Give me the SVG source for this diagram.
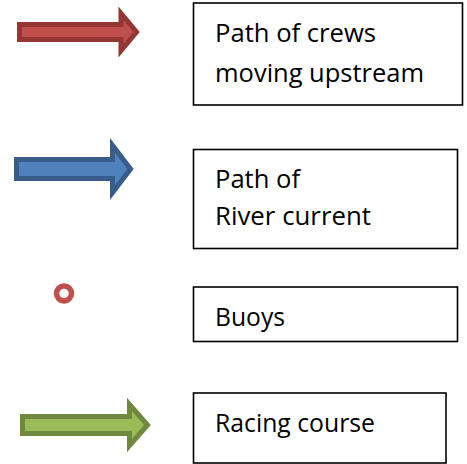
<svg xmlns="http://www.w3.org/2000/svg" width="467" height="464" viewBox="0 0 467 464">
<style>
.box{fill:#fff;stroke:#000;stroke-width:1.6}
.lbl{font-family:"Open Sans","Noto Sans","Liberation Sans",sans-serif;font-size:26px;fill:#000}
.arr{stroke-width:5;stroke-linejoin:miter;stroke-miterlimit:10}
</style>
<rect width="467" height="464" fill="#fff"/>
<g id="legend-crews">
<path class="arr" d="M19.5,24.5 H121 V13.5 L136.5,32 L121,50.5 V39.5 H19.5 Z" fill="#C0504D" stroke="#943634"/>
<rect class="box" x="193.5" y="3" width="269" height="102"/>
<text class="lbl" x="215" y="42" textLength="161" lengthAdjust="spacingAndGlyphs">Path of crews</text>
<text class="lbl" x="215" y="82" textLength="209" lengthAdjust="spacingAndGlyphs">moving upstream</text>
</g>
<g id="legend-current">
<path class="arr" d="M16.5,159.5 H112.5 V145.5 L130.5,169 L112.5,192.5 V178.5 H16.5 Z" fill="#4F81BD" stroke="#385D8A"/>
<rect class="box" x="193.5" y="149.5" width="264" height="99"/>
<text class="lbl" x="215" y="188" textLength="85" lengthAdjust="spacingAndGlyphs">Path of</text>
<text class="lbl" x="215" y="225" textLength="156" lengthAdjust="spacingAndGlyphs">River current</text>
</g>
<g id="legend-buoys">
<circle cx="64" cy="293.5" r="7.5" fill="none" stroke="#C0504D" stroke-width="5.5"/>
<rect class="box" x="193.5" y="287" width="264" height="54.5"/>
<text class="lbl" x="215" y="326" textLength="70" lengthAdjust="spacingAndGlyphs">Buoys</text>
</g>
<g id="legend-course">
<path class="arr" d="M22.5,416.5 H129.5 V404.5 L147.5,425 L129.5,445.5 V433.5 H22.5 Z" fill="#9BBB59" stroke="#71893F"/>
<rect class="box" x="193.5" y="393" width="252.5" height="70"/>
<text class="lbl" x="215" y="432" textLength="160" lengthAdjust="spacingAndGlyphs">Racing course</text>
</g>
<g id="connectors"></g>
</svg>
